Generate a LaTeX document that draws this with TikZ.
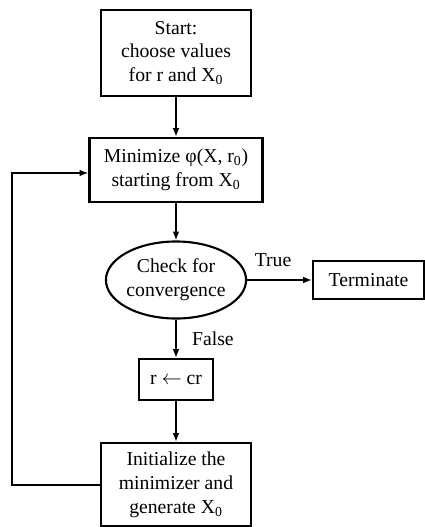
\documentclass[tikz,border=0pt]{standalone}
\usepackage{fontspec}
\setmainfont{Liberation Serif}
\usetikzlibrary{shapes.geometric,arrows.meta}

\begin{document}
\begin{tikzpicture}[x=0.025cm,y=-0.025cm,line width=1.5pt,
    font=\fontsize{14}{17}\selectfont,
    >={Latex[length=2.2mm,width=1.7mm]}]

        \useasboundingbox (0,0) rectangle (425,527);

        \begin{scope}[every node/.style={draw,align=center,inner sep=0pt}]
          \node[minimum width=3.75cm,minimum height=2.15cm] (start) at (176,53)
            {Start:\\choose values\\for r and X\textsubscript{0}};
          \node[minimum width=4.325cm,minimum height=1.6cm] (min) at (176,170)
            {Minimize φ(X, r\textsubscript{0})\\starting from X\textsubscript{0}};
          \node[ellipse,minimum width=3.25cm,minimum height=1.925cm] (check) at (176,280)
            {Check for\\convergence};
          \node[minimum width=2.775cm,minimum height=0.95cm] (term) at (368.5,280)
            {Terminate};
          \node[minimum width=1.85cm,minimum height=1.025cm] (upd) at (176,379.5)
            {r $\leftarrow$ cr};
          \node[minimum width=3.75cm,minimum height=2.075cm] (init) at (176,484.5)
            {Initialize the\\minimizer and\\generate X\textsubscript{0}};
        \end{scope}

        \coordinate (c1) at (12,485);
        \coordinate (c2) at (12,173);

        \begin{scope}[every edge/.style={draw,->}]
          \path (start) edge (min);
          \path (min) edge (check);
          \path (check) edge node[above=0.2cm,pos=0.4] (ltrue) {True} (term);
          \path (check) edge node[right=0.26cm] (lfalse) {False} (upd);
          \path (upd) edge (init);
        \end{scope}

        \draw[->] (init.west |- c1) -- (c1) -- (c2) -- (min.west |- c2);

      \end{tikzpicture}
\end{document}
